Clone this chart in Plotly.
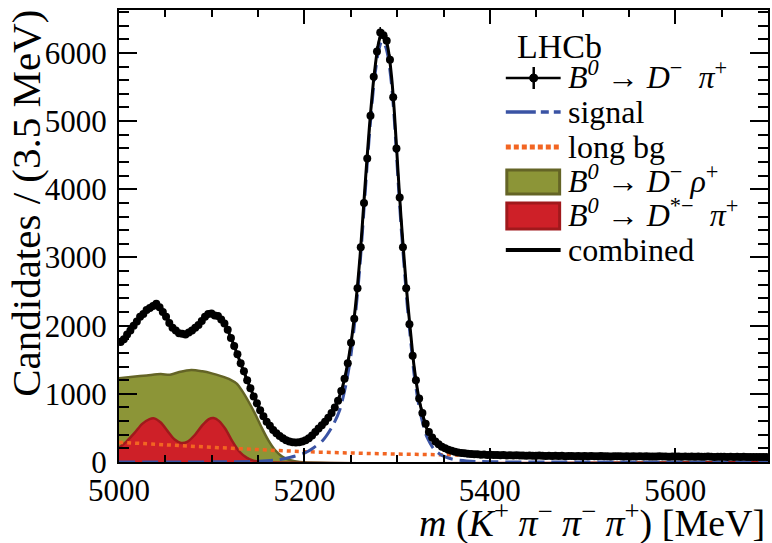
import numpy as np
import plotly.graph_objects as go

# ---- data (bin width 3.5 MeV, 200 bins from 5000 to 5700) ----
bin_lo = 5000.0
bin_w = 3.5
data_counts = [
    1760, 1800, 1870, 1930, 2000, 2060, 2130, 2170, 2230, 2260,
    2290, 2320, 2270, 2200, 2130, 2040, 1970, 1930, 1890, 1880,
    1870, 1900, 1930, 1970, 2010, 2070, 2130, 2170, 2180, 2150,
    2140, 2090, 2030, 1940, 1820, 1700, 1580, 1450, 1330, 1200,
    1080, 960, 860, 760, 670, 590, 530, 470, 420, 380,
    350, 320, 300, 290, 285, 290, 300, 320, 350, 390,
    440, 490, 540, 590, 650, 720, 800, 900, 1040, 1220,
    1450, 1750, 2100, 2550, 3150, 3800, 4450, 5080, 5650, 6020,
    6300, 6260, 6180, 5900, 5350, 4600, 3880, 3150, 2550, 2020,
    1560, 1200, 930, 720, 560, 440, 360, 300, 260, 225,
    200, 180, 165, 150, 140, 133, 127, 122, 117, 113,
    112, 108, 110, 104, 106, 101, 103, 99, 102, 97,
    100, 96, 98, 94, 97, 92, 95, 93, 90, 94,
    91, 89, 93, 88, 90, 87, 91, 86, 89, 88,
    85, 89, 86, 88, 84, 87, 85, 83, 87, 84,
    86, 82, 85, 83, 86, 81, 84, 82, 85, 80,
    83, 81, 84, 80, 82, 79, 83, 80, 81, 78,
    82, 79, 80, 77, 81, 78, 80, 76, 79, 78,
    76, 79, 77, 75, 78, 76, 77, 74, 77, 75,
    76, 73, 76, 74, 75, 72, 75, 73, 74, 72,
]

combined_x = [5000, 5010, 5020, 5030, 5040, 5047, 5055, 5063, 5070, 5078,
              5087, 5095, 5101, 5108, 5115, 5122, 5130, 5140, 5150, 5160,
              5170, 5180, 5190, 5198, 5206, 5215, 5225, 5233, 5240, 5245,
              5250, 5255, 5260, 5265, 5270, 5275, 5280, 5283.5, 5287, 5290,
              5294, 5297, 5301, 5304, 5308, 5311, 5315, 5318, 5322, 5325,
              5329, 5332, 5336, 5339, 5343, 5350, 5360, 5375, 5400, 5450,
              5500, 5600, 5700]
combined_y = [1740, 1890, 2080, 2230, 2300, 2230, 2040, 1920, 1880, 1920,
              2040, 2150, 2170, 2130, 2000, 1780, 1490, 1140, 820, 580,
              420, 325, 290, 300, 360, 480, 640, 810, 1050, 1330,
              1720, 2280, 3020, 3980, 4900, 5650, 6150, 6290, 6230, 6080,
              5650, 5130, 4250, 3620, 2900, 2400, 1830, 1430, 1050, 830,
              620, 490, 390, 330, 270, 205, 158, 126, 104, 92,
              86, 79, 74]

signal_x = [5000, 5100, 5150, 5170, 5185, 5200, 5210, 5220, 5230, 5238,
            5245, 5250, 5255, 5260, 5265, 5270, 5275, 5280, 5283.5, 5287,
            5290, 5294, 5297, 5301, 5304, 5308, 5311, 5315, 5318, 5322,
            5325, 5329, 5332, 5336, 5339, 5343, 5350, 5360, 5375, 5400, 5700]
signal_y = [0, 2, 12, 30, 70, 130, 210, 320, 520, 760,
            1150, 1550, 2150, 2900, 3850, 4780, 5550, 6030, 6170, 6110,
            5960, 5530, 5010, 4130, 3500, 2790, 2280, 1720, 1320, 940,
            720, 500, 370, 265, 200, 145, 85, 40, 15, 4, 0]

longbg_x = [5000, 5050, 5100, 5150, 5200, 5250, 5300, 5350, 5400, 5500, 5600, 5700]
longbg_y = [290, 252, 216, 182, 152, 132, 117, 106, 98, 89, 83, 79]

rho_x = [5000, 5015, 5030, 5045, 5055, 5065, 5078, 5090, 5100, 5110,
         5120, 5127, 5133, 5140, 5147, 5154, 5161, 5168, 5176, 5185,
         5195, 5700]
rho_y = [1230, 1250, 1270, 1290, 1280, 1320, 1350, 1330, 1300, 1260,
         1210, 1150, 1040, 880, 700, 500, 320, 180, 80, 25,
         0, 0]

dstar_x = [5000, 5008, 5017, 5025, 5033, 5038, 5045, 5052, 5060, 5067,
           5074, 5082, 5090, 5097, 5102, 5108, 5115, 5122, 5130, 5138,
           5145, 5155, 5700]
dstar_y = [210, 300, 430, 560, 630, 640, 580, 460, 330, 280,
           300, 400, 540, 630, 645, 600, 480, 310, 150, 60,
           20, 0, 0]

x_tick_vals = [5000, 5200, 5400, 5600]
y_tick_vals = [0, 1000, 2000, 3000, 4000, 5000, 6000]

legend_labels = [
    "<i>B</i><sup><i>0</i></sup> → <i>D</i><sup>−</sup>  <i>π</i><sup>+</sup>",
    "signal",
    "long bg",
    "<i>B</i><sup><i>0</i></sup> → <i>D</i><sup>−</sup> <i>ρ</i><sup>+</sup>",
    "<i>B</i><sup><i>0</i></sup> → <i>D</i><sup>*−</sup>  <i>π</i><sup>+</sup>",
    "combined",
]

# ---- styles ----
FONT = "Liberation Serif"
OLIVE_FILL, OLIVE_LINE = "rgb(140,149,55)", "rgb(100,100,38)"
RED_FILL, RED_LINE = "rgb(206,32,40)", "rgb(160,25,28)"
ORANGE = "rgb(242,101,34)"
BLUE = "rgb(58,83,164)"

W, H = 772, 543
ML, MR, MT, MB = 119, 2, 10, 81
PW, PH = W - ML - MR, H - MT - MB


def px(xp):
    return (xp - ML) / PW


def py(yp):
    return (H - MB - yp) / PH


data_x = bin_lo + bin_w * (np.arange(len(data_counts)) + 0.5)
data_y = np.array(data_counts, dtype=float)

fig = go.Figure()
fig.add_trace(go.Scatter(
    x=rho_x, y=rho_y, mode="lines", fill="tozeroy", line_shape="spline",
    line=dict(color=OLIVE_LINE, width=2.5, smoothing=0.8), fillcolor=OLIVE_FILL,
    name=legend_labels[3], showlegend=False))
fig.add_trace(go.Scatter(
    x=dstar_x, y=dstar_y, mode="lines", fill="tozeroy", line_shape="spline",
    line=dict(color=RED_LINE, width=2.5, smoothing=0.8), fillcolor=RED_FILL,
    name=legend_labels[4], showlegend=False))
fig.add_trace(go.Scatter(
    x=longbg_x, y=longbg_y, mode="lines", line_shape="spline",
    line=dict(color=ORANGE, width=3.5, dash="4px,4px"),
    name=legend_labels[2], showlegend=False))
fig.add_trace(go.Scatter(
    x=signal_x, y=signal_y, mode="lines", line_shape="spline",
    line=dict(color=BLUE, width=3, dash="16px,7px", smoothing=0.8),
    name=legend_labels[1], showlegend=False))
fig.add_trace(go.Scatter(
    x=combined_x, y=combined_y, mode="lines", line_shape="spline",
    line=dict(color="black", width=3, smoothing=0.8),
    name=legend_labels[5], showlegend=False))
fig.add_trace(go.Scatter(
    x=data_x, y=data_y, mode="lines+markers",
    line=dict(color="black", width=1.5),
    marker=dict(color="black", size=8),
    error_y=dict(type="data", array=np.sqrt(data_y), color="black", thickness=1.5, width=0),
    name=legend_labels[0], showlegend=False))

axis_common = dict(
    showline=True, linecolor="black", linewidth=2, mirror="allticks",
    ticks="inside", tickcolor="black", tickwidth=2,
    showgrid=False, zeroline=False,
    tickfont=dict(family=FONT, size=31, color="black"),
)
fig.update_xaxes(
    range=[5000, 5700], tickvals=x_tick_vals, ticklen=14,
    minor=dict(ticks="inside", ticklen=7, dtick=50, tick0=5000, tickcolor="black", tickwidth=1.5),
    **axis_common)
fig.update_yaxes(
    range=[0, 6630], tickvals=y_tick_vals, ticklen=18, ticklabelstandoff=4,
    minor=dict(ticks="inside", ticklen=10, dtick=200, tick0=0, tickcolor="black", tickwidth=1.5),
    **axis_common)

# ---- hand-built legend (keys in paper coordinates) ----
kx0, kx1, kxm = px(507), px(562), px(535)
row_y = [78, 112, 147, 182, 216, 250]
shapes = [
    dict(type="line", xref="paper", yref="paper", x0=kx0, x1=kx1, y0=py(row_y[0]), y1=py(row_y[0]),
         line=dict(color="black", width=2.5)),
    dict(type="line", xref="paper", yref="paper", x0=kxm, x1=kxm, y0=py(row_y[0] - 11), y1=py(row_y[0] + 11),
         line=dict(color="black", width=2.5)),
    dict(type="circle", xref="paper", yref="paper", x0=px(531), x1=px(539), y0=py(row_y[0] - 4), y1=py(row_y[0] + 4),
         fillcolor="black", line=dict(color="black", width=1)),
    dict(type="line", xref="paper", yref="paper", x0=kx0, x1=kx1, y0=py(row_y[1]), y1=py(row_y[1]),
         line=dict(color=BLUE, width=3.5, dash="30px,5px,8px,5px")),
    dict(type="line", xref="paper", yref="paper", x0=kx0, x1=kx1, y0=py(row_y[2]), y1=py(row_y[2]),
         line=dict(color=ORANGE, width=5, dash="5px,3px")),
    dict(type="rect", xref="paper", yref="paper", x0=px(508), x1=px(561), y0=py(row_y[3] - 12), y1=py(row_y[3] + 12),
         fillcolor=OLIVE_FILL, line=dict(color=OLIVE_LINE, width=3)),
    dict(type="rect", xref="paper", yref="paper", x0=px(508), x1=px(561), y0=py(row_y[4] - 13), y1=py(row_y[4] + 13),
         fillcolor=RED_FILL, line=dict(color=RED_LINE, width=3)),
    dict(type="line", xref="paper", yref="paper", x0=kx0, x1=kx1, y0=py(row_y[5]), y1=py(row_y[5]),
         line=dict(color="black", width=4)),
]

annotations = [
    dict(text="LHCb", xref="paper", yref="paper", x=px(516), y=py(46), xanchor="left", yanchor="middle",
         showarrow=False, font=dict(family=FONT, size=34)),
]
for lab, ry in zip(legend_labels, row_y):
    has_sup = "<sup>" in lab
    annotations.append(dict(
        text=lab, xref="paper", yref="paper", x=px(567), y=py(ry - (3 if has_sup else 0)),
        xanchor="left", yanchor="middle", showarrow=False, font=dict(family=FONT, size=32)))

annotations += [
    dict(text="<i>m</i> (<i>K</i><sup>+</sup> <i>π</i><sup>−</sup> <i>π</i><sup>−</sup> <i>π</i><sup>+</sup>) [MeV]",
         xref="paper", yref="paper", x=px(769), y=py(547), xanchor="right", yanchor="bottom",
         showarrow=False, font=dict(family=FONT, size=38)),
    dict(text="Candidates / (3.5 MeV)", textangle=-90,
         xref="paper", yref="paper", x=px(25), y=py(399), xanchor="center", yanchor="bottom",
         showarrow=False, font=dict(family=FONT, size=41)),
]

fig.update_layout(
    width=W, height=H,
    margin=dict(l=ML, r=MR, t=MT, b=MB),
    paper_bgcolor="white", plot_bgcolor="white",
    font=dict(family=FONT, size=24, color="black"),
    showlegend=False,
    shapes=shapes,
    annotations=annotations,
)

fig.write_html("out.html", config={"displayModeBar": False},
               post_script="document.body.style.margin='0';")
